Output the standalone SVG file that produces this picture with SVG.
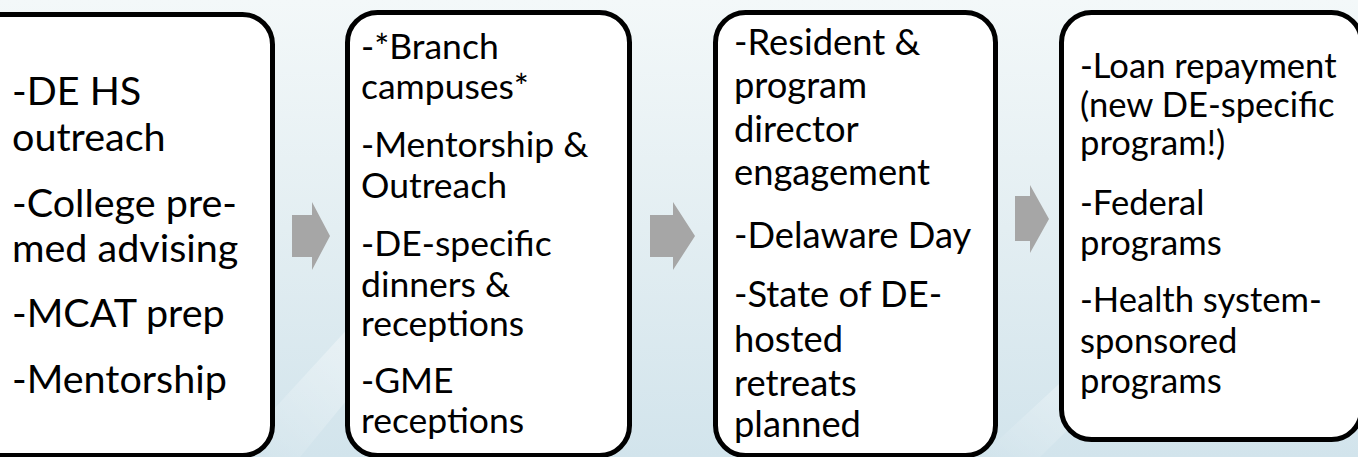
<svg xmlns="http://www.w3.org/2000/svg" width="1358" height="457" viewBox="0 0 1358 457">
<defs>
<linearGradient id="bg" x1="0" y1="0" x2="0" y2="1">
<stop offset="0" stop-color="#f3f8f9"/>
<stop offset="0.5" stop-color="#e3eef2"/>
<stop offset="1" stop-color="#d2e4ec"/>
</linearGradient>
<linearGradient id="streak" x1="0" y1="1" x2="1" y2="0">
<stop offset="0" stop-color="#ffffff" stop-opacity="0"/>
<stop offset="0.5" stop-color="#ffffff" stop-opacity="0.35"/>
<stop offset="1" stop-color="#ffffff" stop-opacity="0"/>
</linearGradient>
</defs>
<style>
.box{fill:#ffffff;stroke:#000000;stroke-width:5}
.arrow{fill:#a6a6a6;stroke:none}
.t{font-family:Lato,"Liberation Sans",sans-serif;fill:#000000}
.t1{font-size:39.5px}
.t2{font-size:35.5px}
.t3{font-size:36.3px}
.t4{font-size:34.6px}
</style>
<rect x="0" y="0" width="1358" height="457" fill="url(#bg)"/>
<polygon points="230,457 420,250 470,250 300,457" fill="url(#streak)"/>
<polygon points="980,457 1150,300 1200,300 1040,457" fill="url(#streak)"/>

<g id="connectors">
<polygon class="arrow" points="292,215 312,215 312,202 330,236 312,270 312,257 292,257"/>
<polygon class="arrow" points="650,215 673,215 673,202 695,236 673,270 673,257 650,257"/>
<polygon class="arrow" points="1015,196 1030,196 1030,185 1049,219 1030,253 1030,241 1015,241"/>
</g>

<g id="node1">
<rect class="box" x="-40" y="14.5" width="312.5" height="441" rx="30"/>
<text class="t t1" x="12"><tspan x="12" y="105">-DE HS</tspan><tspan x="12" y="151">outreach</tspan><tspan x="12" y="217">-College pre-</tspan><tspan x="12" y="262">med advising</tspan><tspan x="12" y="327">-MCAT prep</tspan><tspan x="12" y="393">-Mentorship</tspan></text>
</g>

<g id="node2">
<rect class="box" x="347.5" y="12.5" width="282" height="443" rx="30"/>
<text class="t t2"><tspan x="361" y="59">-*Branch</tspan><tspan x="361" y="99">campuses*</tspan><tspan x="361" y="157">-Mentorship &amp;</tspan><tspan x="361" y="198">Outreach</tspan><tspan x="361" y="256">-DE-specific</tspan><tspan x="361" y="297">dinners &amp;</tspan><tspan x="361" y="336">receptions</tspan><tspan x="361" y="393">-GME</tspan><tspan x="361" y="433">receptions</tspan></text>
</g>

<g id="node3">
<rect class="box" x="715.5" y="12.5" width="280" height="443" rx="30"/>
<text class="t t3"><tspan x="734" y="55">-Resident &amp;</tspan><tspan x="734" y="98">program</tspan><tspan x="734" y="142">director</tspan><tspan x="734" y="185">engagement</tspan><tspan x="734" y="248">-Delaware Day</tspan><tspan x="734" y="307">-State of DE-</tspan><tspan x="734" y="352">hosted</tspan><tspan x="734" y="396">retreats</tspan><tspan x="734" y="437">planned</tspan></text>
</g>

<g id="node4">
<rect class="box" x="1061.5" y="12.5" width="300" height="427" rx="30"/>
<text class="t t4"><tspan x="1080" y="78">-Loan repayment</tspan><tspan x="1080" y="117">(new DE-specific</tspan><tspan x="1080" y="155">program!)</tspan><tspan x="1080" y="215">-Federal</tspan><tspan x="1080" y="255">programs</tspan><tspan x="1080" y="312">-Health system-</tspan><tspan x="1080" y="353">sponsored</tspan><tspan x="1080" y="393">programs</tspan></text>
</g>
</svg>
